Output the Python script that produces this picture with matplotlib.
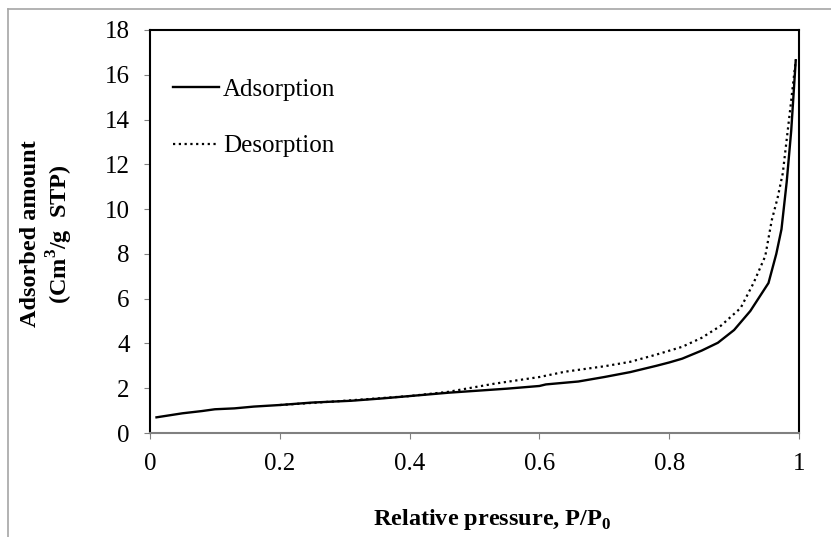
import matplotlib
matplotlib.use("Agg")
import matplotlib.pyplot as plt
from matplotlib.lines import Line2D

# ── Data ──────────────────────────────────────────────────────────────────────
ads_x = [0.01, 0.05, 0.08, 0.10, 0.13, 0.16, 0.20, 0.25, 0.31, 0.36, 0.40,
         0.46, 0.50, 0.55, 0.60, 0.61, 0.66, 0.70, 0.74, 0.78, 0.80, 0.82,
         0.85, 0.875, 0.90, 0.925, 0.953, 0.965, 0.973, 0.981, 0.988, 0.995]
ads_y = [0.70, 0.88, 0.98, 1.06, 1.10, 1.18, 1.25, 1.36, 1.44, 1.55, 1.65,
         1.80, 1.88, 1.98, 2.10, 2.17, 2.30, 2.50, 2.72, 3.00, 3.15, 3.32,
         3.68, 4.03, 4.60, 5.45, 6.70, 8.00, 9.10, 11.2, 13.5, 16.65]

des_x = [0.20, 0.30, 0.40, 0.46, 0.53, 0.60, 0.64, 0.70, 0.74, 0.78, 0.82,
         0.85, 0.88, 0.91, 0.93, 0.948, 0.958, 0.967, 0.975, 0.987, 0.995]
des_y = [1.25, 1.44, 1.65, 1.84, 2.20, 2.50, 2.74, 2.98, 3.18, 3.50, 3.85,
         4.25, 4.80, 5.58, 6.70, 7.90, 9.50, 10.5, 11.6, 14.6, 16.65]

x_ticks = [0, 0.2, 0.4, 0.6, 0.8, 1]
x_tick_labels = ["0", "0.2", "0.4", "0.6", "0.8", "1"]
y_ticks = list(range(0, 19, 2))

plt.rcParams["font.family"] = ["Liberation Serif", "DejaVu Serif"]
plt.rcParams["mathtext.fontset"] = "custom"
plt.rcParams["mathtext.rm"] = "Liberation Serif"
plt.rcParams["mathtext.bf"] = "Liberation Serif:bold"

W, H = 831, 537
fig = plt.figure(figsize=(W / 100, H / 100), dpi=100, facecolor="white")
ax = fig.add_axes([150 / W, 1 - 433 / H, (799 - 150) / W, (433 - 30) / H])

ax.plot(ads_x, ads_y, color="black", lw=1.7, label="Adsorption",
        solid_joinstyle="miter")
ax.plot(des_x, des_y, color="black", lw=1.6, linestyle=(0, (1, 1.6)),
        label="Desorption")

ax.set_xlim(0, 1)
ax.set_ylim(0, 18)
ax.set_xticks(x_ticks)
ax.set_xticklabels(x_tick_labels)
ax.set_yticks(y_ticks)
ax.tick_params(axis="both", direction="out", length=4.5, width=0.8,
               color="#808080", labelsize=18, pad=10)

for side in ("top", "right", "left"):
    ax.spines[side].set_color("black")
    ax.spines[side].set_linewidth(1.5)
ax.spines["bottom"].set_color("#808080")
ax.spines["bottom"].set_linewidth(1.5)

leg = ax.legend(loc="upper left", bbox_to_anchor=(0.02, 0.905), frameon=False,
                fontsize=18, handlelength=1.85, handletextpad=0.16,
                labelspacing=1.36, borderaxespad=0)

# axis titles
fig.text(31 / W, 1 - 234 / H, "Adsorbed amount", rotation=90, ha="center",
         va="center", fontsize=17.5, fontweight="bold")
fig.text(60 / W, 1 - 234 / H, r"(Cm$^{\mathbf{3}}$/g  STP)", rotation=90,
         ha="center", va="center", fontsize=17.5, fontweight="bold")
fig.text(492 / W, 1 - 520 / H, r"Relative pressure, P/P$_{\mathbf{0}}$",
         ha="center", va="center", fontsize=17.5, fontweight="bold")

# outer chart-area border (top and left edges visible)
fig.add_artist(Line2D([8 / W, 1], [1 - 9 / H, 1 - 9 / H],
                      transform=fig.transFigure, color="#a6a6a6", lw=1.2))
fig.add_artist(Line2D([8 / W, 8 / W], [0, 1 - 9 / H],
                      transform=fig.transFigure, color="#a6a6a6", lw=1.2))

fig.savefig("out.png", dpi=100, facecolor="white")
